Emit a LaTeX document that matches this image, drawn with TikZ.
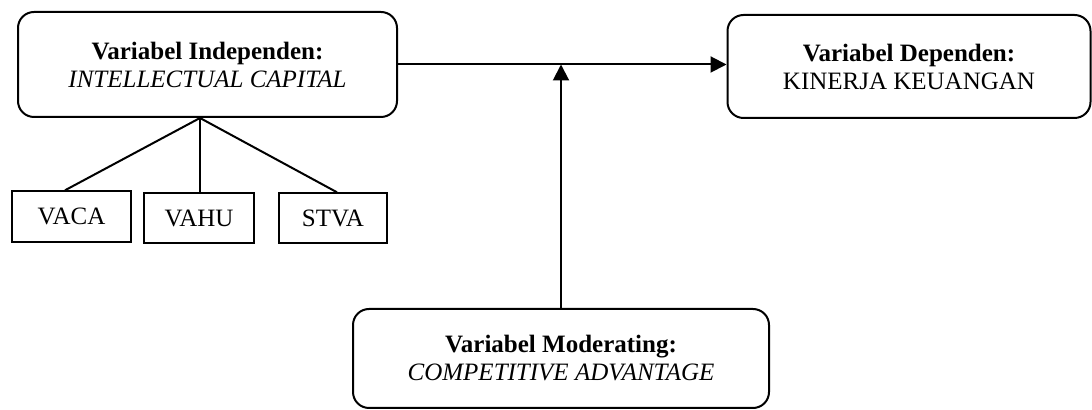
\documentclass[tikz,border=0pt]{standalone}
\usepackage{fontspec}
\setmainfont{Liberation Serif}
\usetikzlibrary{
  arrows.meta
}

\tikzset{
  varbox/.style={draw, line width=1pt, rounded corners=8pt, align=center,
    inner sep=0pt, font=\fontsize{12.5}{14}\selectfont},
  dimbox/.style={draw, line width=0.7pt, inner sep=0pt,
    font=\fontsize{12.5}{14}\selectfont},
  link/.style={line width=1pt},
  arr/.style={line width=1pt, -{Triangle[length=8pt,width=8pt]}}
}

\begin{document}
\begin{tikzpicture}[x=0.5pt, y=-0.5pt]
        \useasboundingbox (0,0) rectangle (1092,410);
        % variables
        \node[varbox, minimum width=189.5pt, minimum height=52.5pt] (indep) at (207.5,64.5)
          {\textbf{Variabel Independen:}\\\textit{INTELLECTUAL CAPITAL}};
        \node[varbox, minimum width=181.5pt, minimum height=51.5pt] (dep) at (909,66.5)
          {\textbf{Variabel Dependen:}\\KINERJA KEUANGAN};
        \node[varbox, minimum width=208pt, minimum height=49.5pt] (moder) at (561,358.5)
          {\textbf{Variabel Moderating:}\\\textit{COMPETITIVE ADVANTAGE}};
        % indicators
        \node[dimbox, minimum width=59.5pt, minimum height=25.5pt] (vaca) at (71.5,216.5) {VACA};
        \node[dimbox, minimum width=55pt, minimum height=25pt] (vahu) at (199,218) {VAHU};
        \node[dimbox, minimum width=54pt, minimum height=25pt] (stva) at (333,218) {STVA};
        \coordinate (fork) at ([xshift=-3.75pt]indep.south);
        \draw[link] (fork) -- ([xshift=-3.25pt]vaca.north);
        \draw[link] (fork) -- (fork |- vahu.north);
        \draw[link] (fork) -- ([xshift=2pt]stva.north);
        % paths
        \draw[arr] (indep.east) -- (indep.east -| dep.west);
        \coordinate (meet) at (moder.north |- indep.east);
	\draw[arr] (moder.north) -- (meet);
\end{tikzpicture}
\end{document}
